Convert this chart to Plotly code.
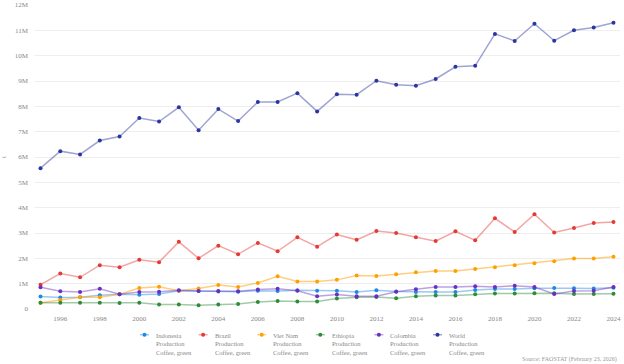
import plotly.graph_objects as go

years = list(range(1995, 2025))

indonesia = [0.49, 0.45, 0.46, 0.54, 0.58, 0.56, 0.59, 0.72, 0.71, 0.69,
             0.68, 0.72, 0.71, 0.74, 0.72, 0.72, 0.67, 0.74, 0.69, 0.67,
             0.67, 0.67, 0.75, 0.79, 0.79, 0.82, 0.83, 0.82, 0.81, 0.84]
brazil = [0.96, 1.40, 1.25, 1.73, 1.65, 1.94, 1.85, 2.65, 2.00, 2.50,
          2.16, 2.61, 2.28, 2.83, 2.46, 2.94, 2.73, 3.08, 3.00, 2.83,
          2.68, 3.07, 2.71, 3.58, 3.04, 3.74, 3.02, 3.20, 3.39, 3.43]
vietnam = [0.25, 0.36, 0.46, 0.46, 0.58, 0.83, 0.88, 0.72, 0.81, 0.95,
           0.87, 1.03, 1.29, 1.09, 1.09, 1.15, 1.32, 1.30, 1.37, 1.45,
           1.50, 1.50, 1.58, 1.65, 1.73, 1.81, 1.88, 1.99, 1.99, 2.06]
ethiopia = [0.25, 0.25, 0.25, 0.25, 0.24, 0.25, 0.18, 0.18, 0.15, 0.18,
            0.20, 0.28, 0.32, 0.30, 0.30, 0.41, 0.46, 0.47, 0.42, 0.50,
            0.53, 0.53, 0.58, 0.61, 0.61, 0.62, 0.62, 0.59, 0.59, 0.60]
colombia = [0.86, 0.70, 0.67, 0.80, 0.58, 0.67, 0.68, 0.74, 0.71, 0.71,
            0.70, 0.77, 0.80, 0.72, 0.50, 0.57, 0.50, 0.50, 0.68, 0.78,
            0.87, 0.87, 0.90, 0.87, 0.92, 0.87, 0.59, 0.71, 0.72, 0.87]
world = [5.56, 6.23, 6.10, 6.65, 6.81, 7.54, 7.40, 7.96, 7.06, 7.89,
         7.42, 8.17, 8.17, 8.52, 7.80, 8.48, 8.46, 9.01, 8.85, 8.81,
         9.08, 9.56, 9.60, 10.86, 10.58, 11.26, 10.59, 11.00, 11.11, 11.30]

series_names = ["Indonesia<br>Production<br>Coffee, green",
                "Brazil<br>Production<br>Coffee, green",
                "Viet Nam<br>Production<br>Coffee, green",
                "Ethiopia<br>Production<br>Coffee, green",
                "Colombia<br>Production<br>Coffee, green",
                "World<br>Production<br>Coffee, green"]
series_values = [indonesia, brazil, vietnam, ethiopia, colombia, world]
marker_colors = ["#1e88e5", "#e53935", "#ffa000", "#2e8b3a", "#6a2fc0", "#2a35a0"]
line_colors = ["rgba(30,136,229,0.45)", "rgba(229,57,53,0.45)", "rgba(255,160,0,0.5)",
               "rgba(46,139,58,0.45)", "rgba(106,47,192,0.45)", "rgba(42,53,160,0.45)"]

ytick_vals = [0, 1, 2, 3, 4, 5, 6, 7, 8, 9, 10, 11, 12]
ytick_text = ["0", "1M", "2M", "3M", "4M", "5M", "6M", "7M", "8M", "9M", "10M", "11M", "12M"]
xtick_vals = list(range(1996, 2025, 2))

FONT = "Liberation Serif"
W, H = 624, 364
ML, MR, MT, MB = 35, 4, 5, 55
PW, PH = W - ML - MR, H - MT - MB


def px_to_paper(px, py):
    return (px - ML) / PW, (H - MB - py) / PH


fig = go.Figure()
for name, vals, mc, lc in zip(series_names, series_values, marker_colors, line_colors):
    fig.add_trace(go.Scatter(
        x=years, y=[v * 1e6 for v in vals], name=name, mode="lines+markers",
        line=dict(color=lc, width=1.5),
        marker=dict(color=mc, size=4, symbol="circle"),
        showlegend=False,
    ))

# custom legend (compact, as in the reference)
annotations = []
shapes = []
legend_text_x0 = 155
legend_step = 58.6
legend_first_line_y = 334.7
for i, (name, mc, lc) in enumerate(zip(series_names, marker_colors, line_colors)):
    tx = legend_text_x0 + legend_step * i
    ax, ay = px_to_paper(tx - 1, legend_first_line_y - 5)
    annotations.append(dict(text=name, xref="paper", yref="paper", x=ax, y=ay,
                            xanchor="left", yanchor="top", align="left", showarrow=False,
                            font=dict(family=FONT, size=6.5, color="#888888")))
    x0, ys = px_to_paper(tx - 15, legend_first_line_y)
    x1, _ = px_to_paper(tx - 6, legend_first_line_y)
    xm, _ = px_to_paper(tx - 10.5, legend_first_line_y)
    shapes.append(dict(type="line", xref="paper", yref="paper", x0=x0, x1=x1, y0=ys, y1=ys,
                       line=dict(color=lc, width=1.5)))
    shapes.append(dict(type="circle", xref="paper", yref="paper", xsizemode="pixel",
                       ysizemode="pixel", xanchor=xm, yanchor=ys, x0=-2, x1=2, y0=-2, y1=2,
                       fillcolor=mc, line=dict(width=0)))

annotations.append(dict(text="Source: FAOSTAT (February 23, 2026)", xref="paper", yref="paper",
                        x=px_to_paper(619, 0)[0], y=px_to_paper(0, 354)[1],
                        xanchor="right", yanchor="top", showarrow=False,
                        font=dict(family=FONT, size=6, color="#999999")))

fig.update_layout(
    width=W, height=H,
    margin=dict(l=ML, r=MR, t=MT, b=MB, autoexpand=False),
    paper_bgcolor="white", plot_bgcolor="white",
    font=dict(family=FONT, size=7, color="#888888"),
    showlegend=False,
    xaxis=dict(range=[1994.72, 2024.33], tickvals=xtick_vals, showgrid=False,
               zeroline=False, showline=False, ticks="", automargin=False,
               ticklabelstandoff=4,
               tickfont=dict(family=FONT, size=7, color="#888888")),
    yaxis=dict(range=[0, 12e6], tickvals=[v * 1e6 for v in ytick_vals], ticktext=ytick_text,
               showgrid=True, gridcolor="#eeeeee", gridwidth=1, zeroline=False,
               showline=False, ticks="", automargin=False, ticklabelstandoff=6,
               tickfont=dict(family=FONT, size=7, color="#888888"),
               title=dict(text="t", font=dict(family=FONT, size=7, color="#888888"))),
    annotations=annotations,
    shapes=shapes,
)

fig.write_html("out.html", config={"displayModeBar": False},
               post_script="document.body.style.margin='0';document.body.style.padding='0';")
